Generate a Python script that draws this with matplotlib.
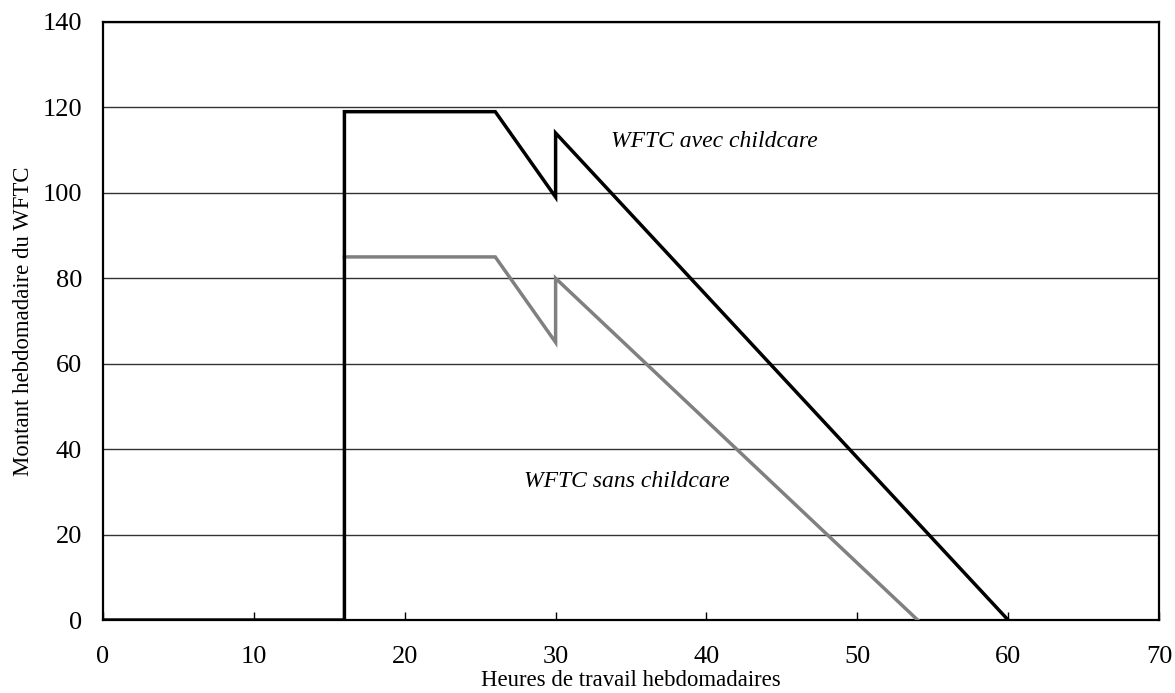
import matplotlib

matplotlib.use("Agg")
import matplotlib.pyplot as plt

# weekly hours worked vs weekly WFTC amount
hours_with = [0, 16, 16, 26, 30, 30, 60]
wftc_with = [0, 0, 119, 119, 99, 114, 0]

hours_without = [16, 26, 30, 30, 54]
wftc_without = [85, 85, 65, 80, 0]

x_ticks = [0, 10, 20, 30, 40, 50, 60, 70]
y_ticks = [0, 20, 40, 60, 80, 100, 120, 140]

plt.rcParams["font.family"] = ["Liberation Serif", "DejaVu Serif"]

fig = plt.figure(figsize=(11.75, 6.93), dpi=100)
ax = fig.add_axes([0.0877, 0.1053, 0.8987, 0.8630])

ax.set_xlim(0, 70)
ax.set_ylim(0, 140)
ax.set_xticks(x_ticks)
ax.set_yticks(y_ticks)
ax.yaxis.grid(True, color="#333333", linewidth=1.0)
ax.set_axisbelow(True)

ax.plot(hours_without, wftc_without, color="#808080", linewidth=2.5,
        solid_joinstyle="miter", zorder=3)
ax.plot(hours_with, wftc_with, color="black", linewidth=2.5,
        solid_joinstyle="miter", zorder=4)

ax.text(33.7, 112, "WFTC avec childcare", fontsize=17, style="italic",
        va="center", ha="left")
ax.text(27.9, 32.5, "WFTC sans childcare", fontsize=17, style="italic",
        va="center", ha="left")

for side in ax.spines.values():
    side.set_linewidth(1.6)
    side.set_color("black")

ax.tick_params(axis="x", direction="in", length=6, width=1, labelsize=19, pad=19)
ax.tick_params(axis="y", length=0, labelsize=19, pad=15)

ax.set_xlabel("Heures de travail hebdomadaires", fontsize=16.4, labelpad=1)
ax.set_ylabel("Montant hebdomadaire du WFTC", fontsize=16.4, labelpad=6)

fig.savefig("out.png", dpi=100)
